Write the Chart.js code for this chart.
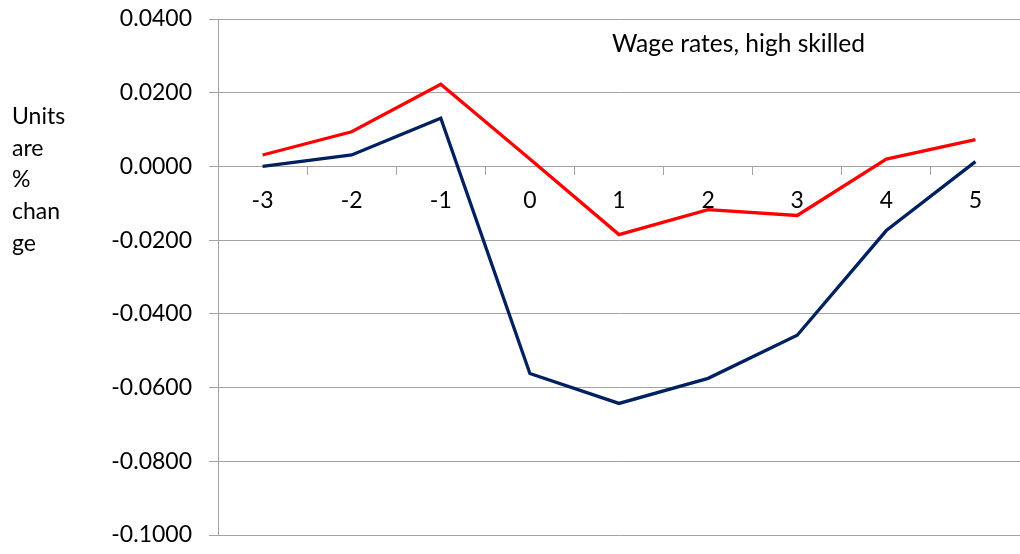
<!DOCTYPE html>
<html>
<head>
<meta charset="utf-8">
<script src="https://cdn.jsdelivr.net/npm/chart.js@4/dist/chart.umd.min.js"></script>
<style>
  html, body { margin: 0; padding: 0; background: #ffffff; }
  #wrap { width: 1020px; height: 554px; position: relative; }
</style>
</head>
<body>
<div id="wrap"><canvas id="c" width="1020" height="554"></canvas></div>
<script>
// ---- data ----
const categories = ['-3', '-2', '-1', '0', '1', '2', '3', '4', '5'];
const redSeries  = [0.0031, 0.0094, 0.0223, 0.0020, -0.0185, -0.0117, -0.0133, 0.0020, 0.0073];
const blueSeries = [0.0000, 0.0031, 0.0131, -0.0562, -0.0643, -0.0575, -0.0458, -0.0174, 0.0013];
const yMin = -0.1, yMax = 0.04, yStep = 0.02;
const chartTitle = 'Wage rates, high skilled';
const unitLines = ['Units', 'are', '%', 'chan', 'ge'];

const FONT = 'Lato';
const GRID = '#a3a3a3';

const textPlugin = {
  id: 'texts',
  afterDraw(chart) {
    const ctx = chart.ctx;
    ctx.save();
    ctx.fillStyle = '#000';
    ctx.textAlign = 'left';
    ctx.textBaseline = 'alphabetic';
    ctx.font = '24.6px ' + FONT;
    ctx.fillText(chartTitle, 612, 52);
    ctx.font = '23px ' + FONT;
    unitLines.forEach((t, i) => ctx.fillText(t, 12, 124 + i * 31.7));
    ctx.restore();
  }
};

new Chart(document.getElementById('c'), {
  type: 'line',
  data: {
    labels: categories,
    datasets: [
      { label: 'Series 2', data: blueSeries, borderColor: '#002060', backgroundColor: '#002060',
        borderWidth: 3.3, pointRadius: 0, tension: 0, fill: false },
      { label: 'Series 1', data: redSeries, borderColor: '#ff0000', backgroundColor: '#ff0000',
        borderWidth: 3.3, pointRadius: 0, tension: 0, fill: false }
    ]
  },
  options: {
    responsive: false,
    animation: false,
    layout: { padding: { left: 0, right: 0, top: 19, bottom: 19 } },
    plugins: { legend: { display: false }, title: { display: false }, tooltip: { enabled: false } },
    scales: {
      x: {
        type: 'category',
        offset: true,
        position: { y: 0 },
        grid: { offset: true, drawOnChartArea: false, drawTicks: true, tickLength: 8, color: GRID, lineWidth: 1 },
        border: { display: true, color: GRID, width: 1 },
        ticks: { padding: 12, color: '#000', font: { family: FONT, size: 23 }, maxRotation: 0, autoSkip: false }
      },
      y: {
        min: yMin, max: yMax,
        afterFit(scale) { scale.width = 218; scale.paddingTop = 0; scale.paddingBottom = 0; },
        grid: { color: GRID, lineWidth: 1, drawTicks: true, tickLength: 9 },
        border: { display: true, color: GRID, width: 1 },
        ticks: {
          stepSize: yStep, padding: 17, color: '#000',
          font: { family: FONT, size: 23 },
          callback: v => Number(v).toFixed(4)
        }
      }
    }
  },
  plugins: [textPlugin]
});
</script>
</body>
</html>
